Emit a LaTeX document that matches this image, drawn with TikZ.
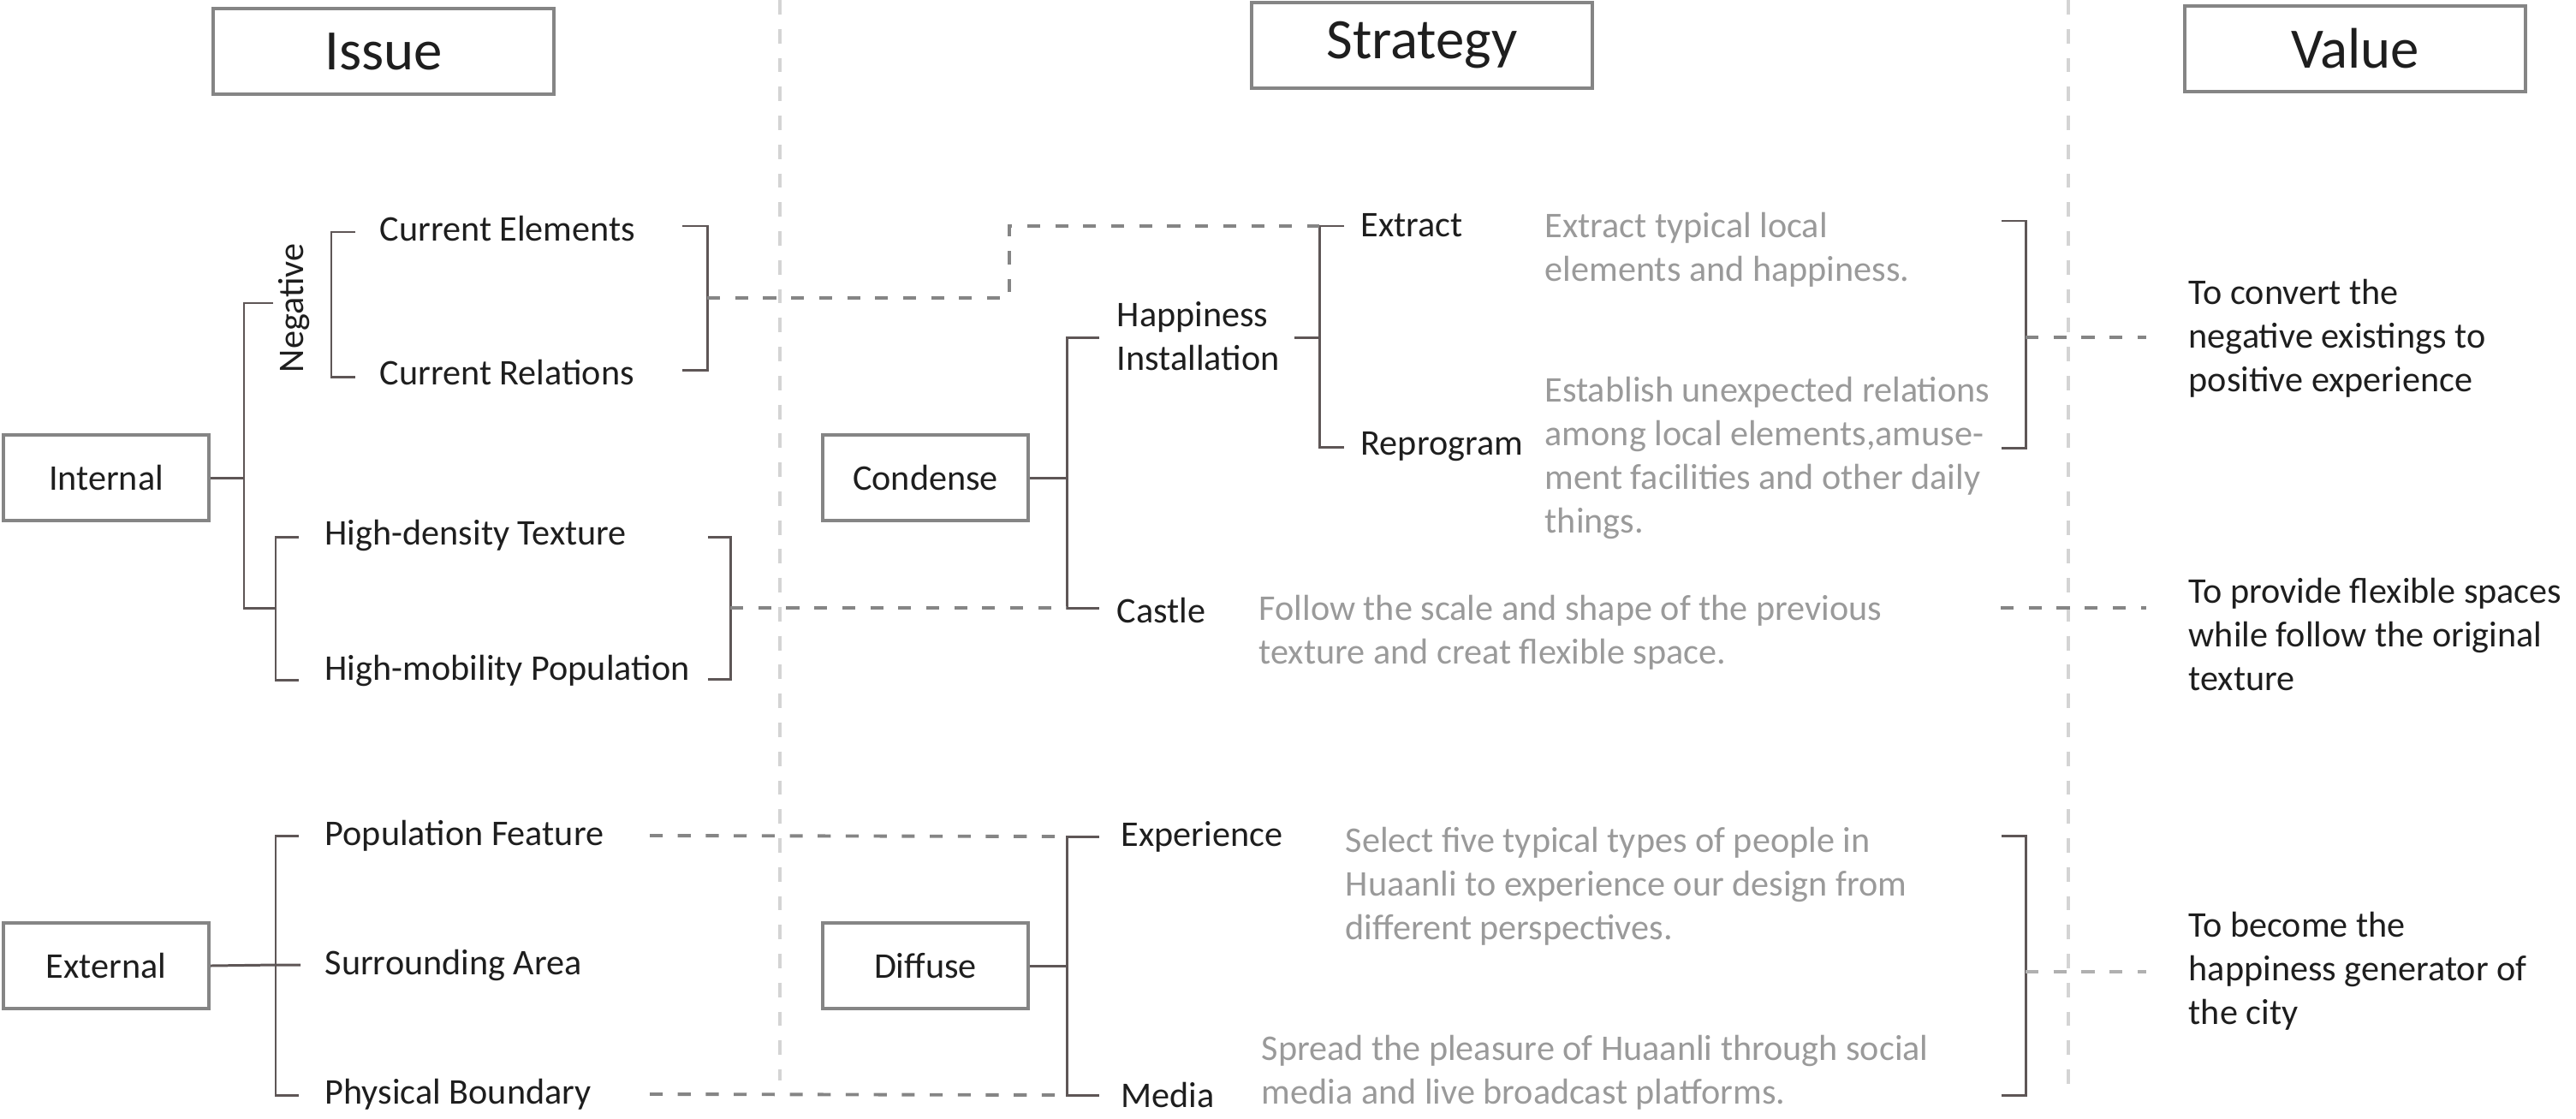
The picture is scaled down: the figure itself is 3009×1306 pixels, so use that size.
\documentclass[tikz,border=0pt]{standalone}
\usepackage{fontspec}
\setmainfont{Carlito}
\definecolor{ink}{HTML}{1E1E1E}
\definecolor{notegray}{HTML}{9A9A9A}
\definecolor{treeline}{HTML}{5E5656}
\definecolor{linkgray}{HTML}{858585}
\definecolor{lightlink}{HTML}{B0B0B0}
\definecolor{divgray}{HTML}{D4D4D4}
\definecolor{boxline}{HTML}{858585}
\begin{document}
\begin{tikzpicture}[x=0.01cm, y=-0.01cm,
    every node/.style={font=\fontsize{12}{14.5}\selectfont, text=ink},
    head/.style={draw=boxline, line width=1.2pt, minimum width=3.98cm, minimum height=1cm, font=\fontsize{19}{23}\selectfont},
    cat/.style={draw=boxline, line width=1.2pt, minimum width=2.4cm, minimum height=1cm},
    item/.style={anchor=west, inner sep=0pt},
    note/.style={anchor=west, inner sep=0pt, align=left, text=notegray},
    tree/.style={draw=treeline, line width=0.85pt},
    link/.style={draw=linkgray, line width=1.1pt, dash pattern=on 4.3pt off 5pt},
    divider/.style={draw=divgray, line width=1pt, dash pattern=on 4.8pt off 4.8pt}]
\useasboundingbox (0,0) rectangle (3009,1306);

\draw[divider] (911,0) -- (911,1262);
\draw[divider] (2416,0) -- (2416,1280);

\node[head] (issue) at (448,60) {Issue};
\node[head] (strategy) at (1661,53) {Strategy};
\node[head] (value) at (2751,57) {Value};

\node[cat] (internal) at (124,558) {Internal};
\node[cat] (external) at (124,1128) {External};
\node[item] (curel) at (443,267) {Current Elements};
\node[item] (currel) at (443,435) {Current Relations};
\node[item, rotate=90, anchor=center] (neg) at (344,360) {Negative};
\node[item] (hdens) at (379,625) {High-density Texture};
\node[item] (hmob) at (379,783) {High-mobility Population};
\node[item] (popf) at (379,976) {Population Feature};
\node[item] (surr) at (379,1127) {Surrounding Area};
\node[item] (phys) at (379,1278) {Physical Boundary};

\node[cat] (condense) at (1081,558) {Condense};
\node[cat] (diffuse) at (1081,1128) {Diffuse};
\node[item, align=left] (happy) at (1304,393) {Happiness\\Installation};
\node[item] (extract) at (1589,263) {Extract};
\node[item] (reprog) at (1589,522) {Reprogram};
\node[item] (castle) at (1304,713) {Castle};
\node[item] (exper) at (1309,977) {Experience};
\node[item] (media) at (1309,1279) {Media};

\node[note] (extractnote) at (1804,292) {Extract typical local\\elements and happiness.};
\node[note] (reprognote) at (1804,535) {Establish unexpected relations\\among local elements,amuse-\\ment facilities and other daily\\things.};
\node[note] (castlenote) at (1470,739) {Follow the scale and shape of the previous\\texture and creat flexible space.};
\node[note] (expernote) at (1571,1035) {Select five typical types of people in\\Huaanli to experience our design from\\different perspectives.};
\node[note] (medianote) at (1473,1253) {Spread the pleasure of Huaanli through social\\media and live broadcast platforms.};

\node[item, align=left] (convert) at (2556,395) {To convert the\\negative existings to\\positive experience};
\node[item, align=left] (provide) at (2556,741) {To provide flexible spaces\\while follow the original\\texture};
\node[item, align=left] (become) at (2556,1134) {To become the\\happiness generator of\\the city};

\coordinate (ifork) at (285,558);
\coordinate (efork) at (322,1127);
\coordinate (cfork) at (1246,558);
\coordinate (dfork) at (1246,1128);
\coordinate (hfork) at (1541,394);

\draw[tree] (internal.east) -- (ifork);
\draw[tree] (319,354) -| (ifork) |- (322,710);
\draw[tree] (415,271) -| (387,440) -- (415,440);
\draw[tree] (797,264) -| (826,432) -- (797,432);
\draw[tree] (349,627) -| (322,794) -- (349,794);
\draw[tree] (827,627) -| (853,793) -- (827,793);
\draw[tree] (external.east) -- (efork) -- (351,1127);
\draw[tree] (349,976) -| (322,1279) -- (349,1279);

\draw[tree] (condense.east) -- (cfork);
\draw[tree] (1284,394) -| (cfork) |- (1284,710);
\draw[tree] (1512,394) -- (hfork);
\draw[tree] (1570,264) -| (hfork) |- (1570,522);
\draw[tree] (diffuse.east) -- (dfork);
\draw[tree] (1284,977) -| (dfork) |- (1284,1279);

\draw[tree] (2338,258) -| (2366,523) -- (2338,523);
\draw[tree] (2338,976) -| (2366,1279) -- (2338,1279);

\draw[link] (826,348) -| (1179,264) -- (1541,264);
\draw[link] (853,710) -- (1246,710);
\draw[link] (759,976) -- (1246,977);
\draw[link] (759,1278) -- (1246,1279);
\draw[link] (2366,394) -- (2507,394);
\draw[link] (2337,710) -- (2507,710);
\draw[link, draw=lightlink] (2366,1135) -- (2507,1135);
\end{tikzpicture}
\end{document}
